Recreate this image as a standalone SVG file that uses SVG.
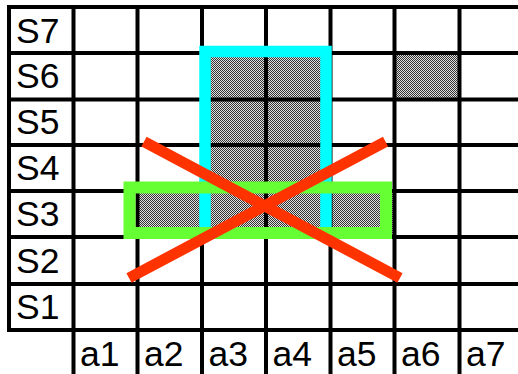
<svg xmlns="http://www.w3.org/2000/svg" width="518" height="374" viewBox="0 0 518 374">
<defs>
<pattern id="dots" patternUnits="userSpaceOnUse" width="2" height="2">
<rect width="2" height="2" fill="#e0e0e0"/>
<rect x="0" y="0" width="1" height="1" fill="#333"/>
<rect x="1" y="1" width="1" height="1" fill="#333"/>
</pattern>
</defs>
<style>
.cell{fill:url(#dots)}
.grid{stroke:#000;stroke-width:4;fill:none}
.lbl{font-family:"Liberation Sans",Arial,sans-serif;font-size:35.5px;fill:#000}
.cyan{stroke:#00ffff;stroke-width:11.5;fill:none}
.green{stroke:#66ff33;stroke-width:12;fill:none}
.red{stroke:#ff3300;stroke-width:11;fill:none}
</style>
<rect width="518" height="374" fill="#fff"/>
<g id="shaded">
<rect class="cell" x="202" y="53" width="128.5" height="184"/>
<rect class="cell" x="137.5" y="191" width="257" height="46"/>
<rect class="cell" x="394.5" y="53" width="65" height="46.5"/>
</g>
<g id="grid">
<path class="grid" d="M9,7H518M9,53H518M9,99.5H518M9,145H518M9,191H518M9,237H518M9,284H518M9,330H518"/>
<path class="grid" d="M9,5V332M73.5,7V374M137.5,7V374M202,7V374M266,7V374M330.5,7V374M394.5,7V374M459.5,7V374"/>
</g>
<g id="row-labels">
<text class="lbl" x="16" y="42.5">S7</text>
<text class="lbl" x="16" y="88">S6</text>
<text class="lbl" x="16" y="134">S5</text>
<text class="lbl" x="16" y="180">S4</text>
<text class="lbl" x="16" y="226">S3</text>
<text class="lbl" x="16" y="272.5">S2</text>
<text class="lbl" x="16" y="318.5">S1</text>
</g>
<g id="col-labels">
<text class="lbl" x="80" y="365.5">a1</text>
<text class="lbl" x="144" y="365.5">a2</text>
<text class="lbl" x="208.5" y="365.5">a3</text>
<text class="lbl" x="272.5" y="365.5">a4</text>
<text class="lbl" x="337" y="365.5">a5</text>
<text class="lbl" x="401" y="365.5">a6</text>
<text class="lbl" x="466" y="365.5">a7</text>
</g>
<g id="cyan-box">
<path class="cyan" d="M205,232V51.5H326V232"/>
</g>
<g id="green-box">
<rect class="green" x="129.5" y="187.5" width="256.5" height="45.5"/>
</g>
<g id="red-x">
<path class="red" d="M144,141.7L400,278M129,278L385.5,141.7"/>
</g>
</svg>
